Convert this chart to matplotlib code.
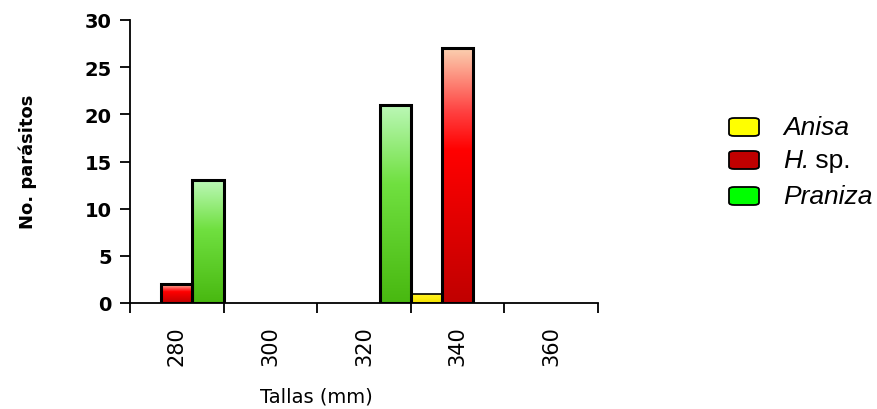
import matplotlib.pyplot as plt
import numpy as np
from matplotlib.patches import FancyBboxPatch
from matplotlib.colors import LinearSegmentedColormap

# datos
tallas = ['280', '300', '320', '340', '360']
anisa = [0, 0, 0, 1, 0]
h_sp = [2, 0, 0, 27, 0]
praniza = [13, 0, 21, 0, 0]

series = [
    ('Anisa', anisa, '#ffff00'),
    ('H. sp.', h_sp, '#c00000'),
    ('Praniza', praniza, '#00ff00'),
]

# degradados por barra (de abajo hacia arriba)
grad = {
    'Anisa': LinearSegmentedColormap.from_list('a', ['#f0e000', '#ffee10', '#fff030']),
    'H. sp.': LinearSegmentedColormap.from_list('h', [(0, '#c00000'), (0.6, '#ff0000'), (0.75, '#ff4040'), (1, '#fbd0b0')]),
    'Praniza': LinearSegmentedColormap.from_list('p', [(0, '#48b810'), (0.6, '#70e040'), (1, '#bcf8b8')]),
}

fig = plt.figure(figsize=(8.77, 4.10), dpi=100)
ax = fig.add_axes([130/877, 1-304/410, 468/877, 283/410])

x = np.arange(len(tallas))
w = 1/3
for k, (name, vals, col) in enumerate(series):
    bars = ax.bar(x + (k-1)*w, vals, width=w, color='none', edgecolor='black', linewidth=2.2, zorder=3)
    for b, v in zip(bars, vals):
        if v == 0:
            b.set_visible(False)
            continue
        x0, y0 = b.get_x(), b.get_y()
        img = ax.imshow(np.linspace(0, 1, 256).reshape(-1, 1), cmap=grad[name], origin='lower',
                        extent=[x0, x0 + b.get_width(), y0, y0 + b.get_height()],
                        aspect='auto', zorder=2)
        img.set_clip_path(b)
        if name == 'Anisa':
            b.set_linewidth(1.2)

ax.set_xlim(-0.5, 4.5)
ax.set_ylim(0, 30)
ax.set_yticks(range(0, 31, 5))
ax.set_yticklabels([str(v) for v in range(0, 31, 5)], fontsize=14, fontweight='bold')
ax.set_xticks(x)
ax.set_xticklabels(tallas, rotation=90, fontsize=15)
ax.set_xticks(np.arange(-0.5, 5, 1), minor=True)
ax.tick_params(axis='x', which='major', length=0, pad=16)
ax.tick_params(axis='x', which='minor', length=7, width=1.3, direction='out')
ax.tick_params(axis='y', length=7, width=1.3, direction='out', pad=6)
for s in ['top', 'right']:
    ax.spines[s].set_visible(False)
ax.spines['left'].set_linewidth(1.3)
ax.spines['bottom'].set_linewidth(1.3)

fig.text(28/877, 1-162/410, 'No. parásitos', rotation=90, ha='center', va='center',
         fontsize=13, fontweight='bold')
fig.text(316/877, 1-397/410, 'Tallas (mm)', ha='center', va='center', fontsize=14)

# leyenda
ly = [128, 161, 197]
for (name, vals, col), yy in zip(series, ly):
    box = FancyBboxPatch((729/877, 1-(yy+9)/410), 30/877, 18/410,
                         boxstyle='round,pad=0,rounding_size=0.006', transform=fig.transFigure,
                         facecolor=col, edgecolor='black', linewidth=1.3)
    fig.patches.append(box)
fig.text(783/877, 1-128/410, 'Anisa', style='italic', fontsize=19, va='center', family='Liberation Sans')
fig.text(783/877, 1-161/410, 'H.', style='italic', fontsize=19, va='center', family='Liberation Sans')
fig.text(808/877, 1-161/410, ' sp.', fontsize=19, va='center', family='Liberation Sans')
fig.text(783/877, 1-197/410, 'Praniza', style='italic', fontsize=19, va='center', family='Liberation Sans')

fig.savefig('out.png', dpi=100)
